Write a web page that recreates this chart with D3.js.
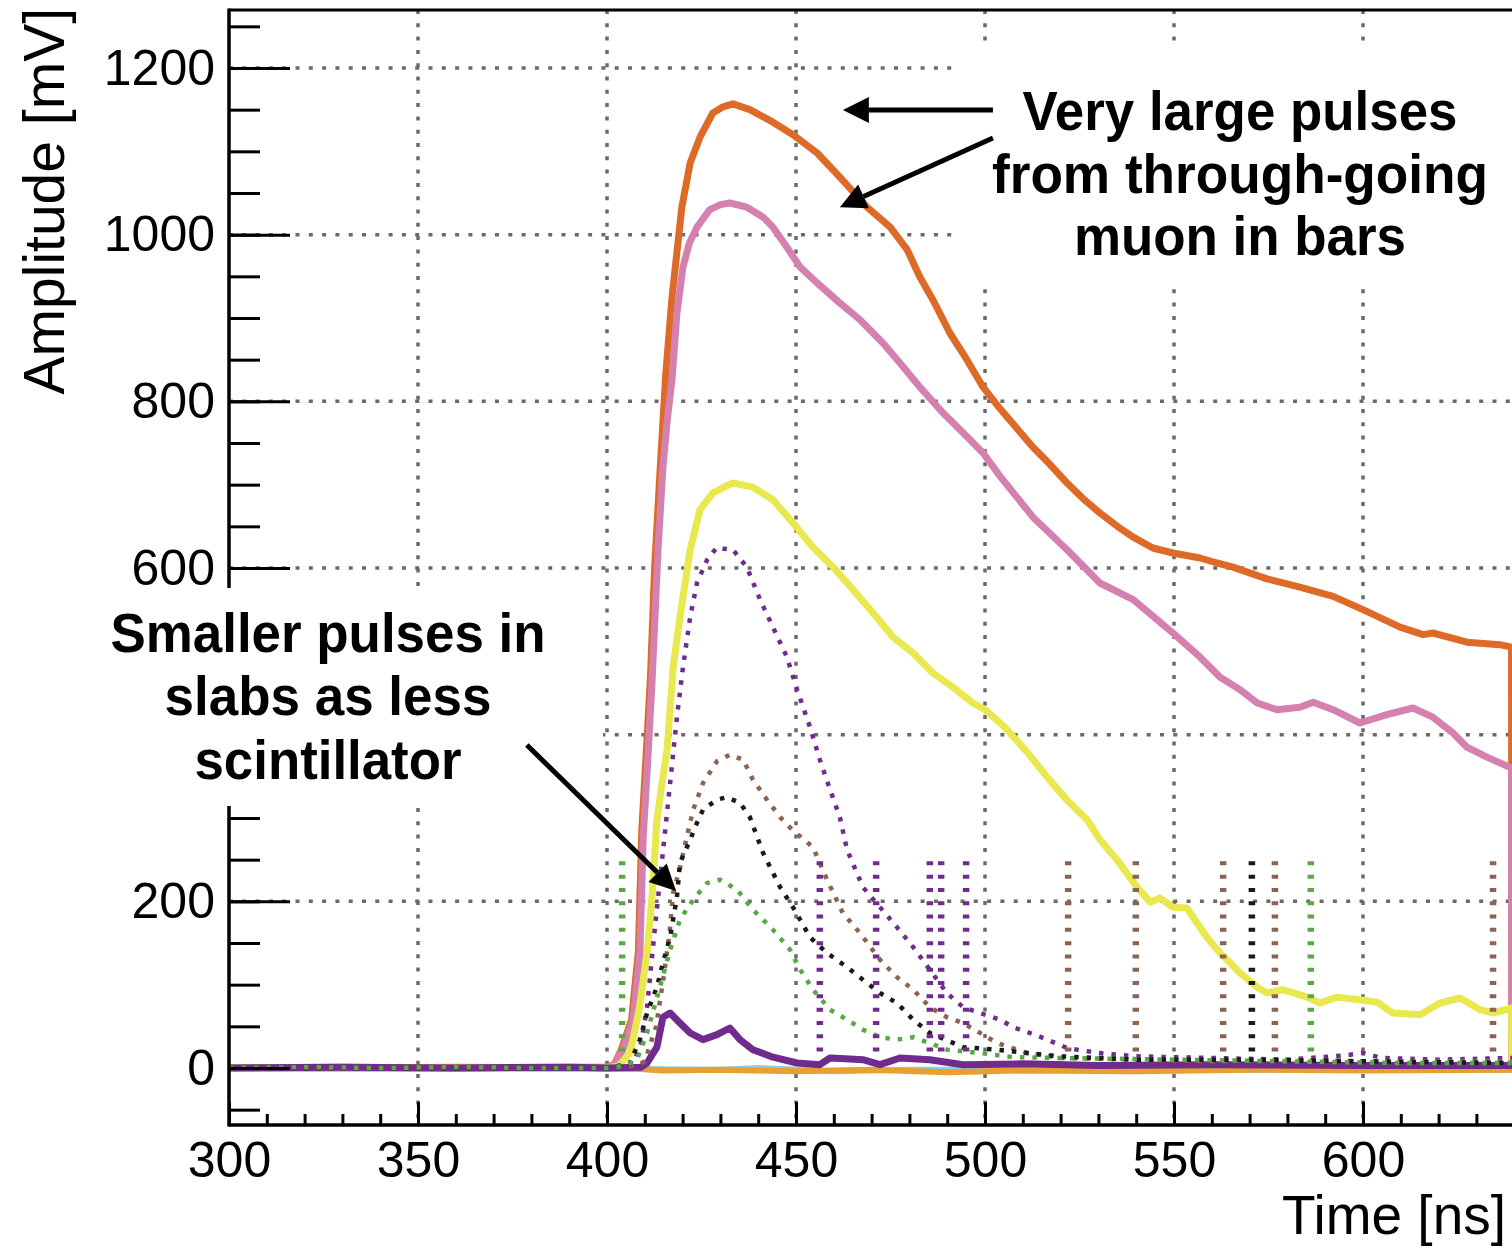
<!DOCTYPE html>
<html><head><meta charset="utf-8">
<script src="https://cdn.jsdelivr.net/npm/d3@7"></script>
<style>html,body{margin:0;padding:0;background:#fff;} svg{display:block;}</style>
</head><body>
<svg id="chart" width="1512" height="1247"></svg>
<script>
// ---------------- DATA (time [ns], amplitude [mV]) ----------------
const barOrange = [[300,0],[330,1],[360,0],[390,1],[400,1],[402,5],[403.8,22],[406.5,58],[408.3,140],[409.2,285],[410.4,380],[411.5,470],[412.6,600],[414,714],[415.5,830],[417.2,925],[419.8,1033],[422,1086],[424.6,1117],[428,1146],[430.5,1153],[433.3,1157],[437.8,1150],[443.9,1135],[449.2,1120],[455.6,1098],[461.6,1069],[468.8,1033],[474.9,1009],[479.4,982],[482.8,949],[486.2,922],[490.7,882],[495.2,850],[499.5,817],[504,791],[509.3,763],[512.7,745],[516.4,728],[521.7,702],[526,683],[530.4,666],[535,650],[539.2,637],[544.4,624],[549.7,618],[556.9,612],[561.4,606],[565.6,601],[574.6,587],[583.3,577],[592.1,566],[600,550],[609.8,529],[615.9,520],[618.5,522],[627.5,511],[636.2,508],[639.3,505],[639.4,0],[650,0]];
const barPink = [[300,0],[330,0],[360,1],[390,0],[400,1],[402,5],[404.2,22],[406.9,58],[408.7,138],[409.6,280],[410.8,370],[411.9,462],[413.5,622],[414.8,721],[416,780],[417.2,826],[418.5,906],[420.1,961],[421.8,990],[423.8,1009],[427.2,1030],[430,1036],[432.5,1038],[437,1033],[441.3,1021],[443.9,1009],[447.6,985],[451.1,961],[455.6,942],[461.6,918],[466.9,898],[473,870],[477.5,846],[482.8,817],[488.9,786],[493.4,766],[499.5,738],[504,710],[512.7,661],[521.7,622],[530.4,582],[539.2,562],[545,540],[550,521],[556.9,493],[562.2,469],[567.5,454],[572,438],[577.2,430],[583.3,433],[586.8,439],[592.1,430],[599.2,414],[606.3,424],[613.2,432],[618.5,421],[623.8,402],[627.5,385],[632.8,373],[639.3,360],[639.4,0],[650,0]];
const barYellow = [[300,0],[330,1],[360,0],[390,0],[400,0],[403,2],[406.1,18],[408.5,70],[410.6,138],[412,210],[413.2,298],[414.5,340],[415.9,382],[417.5,481],[419.3,541],[422,622],[424.6,670],[428,690],[431,697],[433.3,702],[438.6,697],[443.9,682],[449.2,654],[454.5,625],[459.8,601],[465.1,574],[470.4,546],[475.7,517],[481,498],[486.2,474],[491.5,457],[496.8,438],[500,430],[505,410],[511,380],[517,346],[522,320],[527,298],[530.4,274],[534.9,250],[540.2,217],[543.7,199],[546.3,204],[549.7,193],[553.4,192],[558.7,157],[562.2,138],[567.5,114],[572,97],[574.6,90],[578.8,94],[585.2,85],[588.6,78],[593.1,85],[599.2,82],[603.7,79],[607.9,66],[615.1,64],[620.4,78],[625.7,84],[631,70],[634.4,66],[639.3,72],[639.4,0],[650,0]];
const barLightOrange = [[300,0],[350,1],[400,0],[408,-1],[415,-3],[430,-2],[450,-4],[470,-2],[490,-5],[510,-3],[540,-4],[570,-2],[600,-3],[640,-2],[650,-2]];
const barLightBlue = [[300,-1],[400,-1],[430,-2],[440,0],[452,-2],[460,-4],[480,-2],[520,-2],[600,-2],[650,-2]];
const barPurple = [[300,0],[330,1],[360,0],[390,1],[400,0],[409,1],[410.6,6],[413.2,25],[414.8,61],[416.7,66],[419.3,54],[422,42],[425.4,34],[429.1,40],[432.5,48],[435.2,34],[438.6,22],[443.9,13],[450.3,6],[456.3,4],[459,12],[463,11],[467.7,10],[472.2,4],[477.5,12],[485.4,10],[494.2,4],[510,5],[530,3],[560,4],[600,3],[639.4,3],[650,3]];
const slabPurple = [[300,0],[400,0],[407,5],[409,30],[410.6,73],[412.5,160],[414.8,260],[416.7,342],[418.5,421],[420.1,481],[422,541],[423.8,582],[426.5,610],[429.1,625],[431,623],[433.3,622],[437,601],[440.5,562],[443.9,529],[447.6,493],[450.3,454],[453.7,409],[456.3,370],[459,334],[461.6,301],[463.5,262],[467.7,217],[472.2,193],[476.7,169],[481,145],[485.4,118],[489.9,90],[494.2,73],[498.7,66],[504,58],[507.4,49],[511.9,42],[516,35],[521.7,24],[530,18],[540,14],[560,12],[580,10],[595,15],[600,18],[605,12],[620,10],[639.4,12],[650,10]];
const slabBrown = [[300,0],[400,0],[408,3],[410,8],[413,50],[415,110],[416.5,160],[417.5,210],[419.3,240],[421,275],[422.8,310],[425.4,342],[429.1,368],[432.5,376],[436,370],[438.6,346],[442.3,322],[445.8,301],[449.2,285],[454.5,265],[458.2,226],[462.4,186],[466.9,162],[472.2,130],[476.7,109],[481,94],[485.4,73],[489.9,61],[494.2,54],[503.2,30],[511.1,18],[520,12],[540,10],[560,8],[580,10],[600,8],[639.4,8],[650,8]];
const slabBlack = [[300,0],[400,0],[406,5],[408.7,34],[410.6,66],[413.2,97],[414.8,126],[416.7,157],[418.5,205],[419.3,246],[422,274],[423.8,294],[425.4,310],[429.1,322],[431.7,325],[435.2,318],[437.8,301],[441.3,258],[445.8,217],[449.2,193],[453.7,157],[458.2,138],[463.5,121],[467.7,106],[472.2,90],[476.7,78],[481,58],[485.4,42],[494.2,25],[503.2,22],[511.1,18],[520,14],[540,10],[570,10],[600,8],[639.4,6],[650,6]];
const slabGreen = [[300,0],[320,1],[340,0],[360,1],[380,0],[400,0],[405,3],[407.9,10],[410.6,42],[414,97],[416.7,142],[419.3,178],[422.8,202],[426.5,222],[429.9,226],[434.4,214],[438.6,190],[443.9,166],[448.4,142],[451.1,118],[454.5,94],[459,70],[463.5,58],[467.7,46],[472.2,37],[476.7,34],[481,37],[485.4,30],[489.9,22],[498.7,18],[507.4,13],[520,12],[550,10],[580,8],[610,6],[639.4,6],[650,6]];
// vertical dotted spikes
const spikeTime = [404.0, 456.3, 471.2, 485.4, 488.4, 495.0, 522.0, 539.9, 563.0, 570.6, 576.7, 586.2, 634.4];
const spikeSeries = ["green","purple","purple","purple","purple","purple","brown","brown","brown","black","brown","green","brown"];
const spikeTop = 248, spikeBottom = 14;
// axis ticks (400 mV label is hidden behind the annotation in the original)
const xLabelTicks = [300, 350, 400, 450, 500, 550, 600];
const xMajorTicks = [300, 350, 400, 450, 500, 550, 600, 650];
const yLabelTicks = [0, 200, 600, 800, 1000, 1200];
const yMajorTicks = [0, 200, 400, 600, 800, 1000, 1200];
const yGridTicks = [200, 400, 600, 800, 1000, 1200];
const xGridTicks = [350, 400, 450, 500, 550, 600, 650];

// ---------------- STYLES ----------------
const colors = {orange:"#de6a27", pink:"#d581b0", yellow:"#e9e84e", lightOrange:"#e9a02e", lightBlue:"#8ccde6",
  purple:"#702c8c", brown:"#8b6350", black:"#1a1a1a", green:"#58a944"};

const svg = d3.select("#chart");
const x = d3.scaleLinear().domain([300, 650]).range([229, 229 + 350 * 3.78]);
const y = d3.scaleLinear().domain([-68.4, 1269.6]).range([1125, 10]);
const font = "'Liberation Sans', Arial, Helvetica, sans-serif";

// grid
const grid = svg.append("g").attr("stroke", "#6a6a6a").attr("stroke-width", 3.5).attr("stroke-dasharray", "4,9.3");
grid.selectAll("line.v").data(xGridTicks).join("line").attr("class","v")
  .attr("x1", d => x(d)).attr("x2", d => x(d)).attr("y1", y(1269.6)).attr("y2", y(-68.4));
grid.selectAll("line.h").data(yGridTicks).join("line").attr("class","h")
  .attr("x1", x(300)).attr("x2", 1512).attr("y1", d => y(d)).attr("y2", d => y(d));

// clip
svg.append("clipPath").attr("id","plotclip").append("rect")
  .attr("x", x(300)).attr("y", y(1269.6)).attr("width", 1512 - x(300)).attr("height", y(-68.4) - y(1269.6));
const plot = svg.append("g").attr("clip-path","url(#plotclip)");
const line = d3.line().x(d => x(d[0])).y(d => y(d[1]));

function solid(data, color, w) {
  plot.append("path").datum(data).attr("d", line).attr("fill","none")
    .attr("stroke", color).attr("stroke-width", w).attr("stroke-linejoin","round");
}
function dotted(data, color, w) {
  plot.append("path").datum(data).attr("d", line).attr("fill","none")
    .attr("stroke", color).attr("stroke-width", w).attr("stroke-dasharray","4.5,8");
}
solid(barOrange, colors.orange, 7);
solid(barPink, colors.pink, 7);
solid(barYellow, colors.yellow, 7);
solid(barLightBlue, colors.lightBlue, 6);
solid(barLightOrange, colors.lightOrange, 6);
solid(barPurple, colors.purple, 7);
dotted(slabPurple, colors.purple, 4.5);
dotted(slabBrown, colors.brown, 4.5);
dotted(slabBlack, colors.black, 4.5);
dotted(slabGreen, colors.green, 4.5);

// spikes
plot.selectAll("line.spike").data(spikeTime).join("line").attr("class","spike")
  .attr("x1", d => x(d)).attr("x2", d => x(d))
  .attr("y1", y(spikeTop)).attr("y2", y(spikeBottom))
  .attr("stroke", (d,i) => colors[spikeSeries[i]])
  .attr("stroke-width", 6.5).attr("stroke-dasharray","4,9.3");

// axes
const axG = svg.append("g");
axG.append("line").attr("x1", x(300)).attr("x2", x(300)).attr("y1", y(1269.6)-1.5).attr("y2", y(-68.4)+1.5).attr("stroke","#000").attr("stroke-width",3.5);
axG.append("line").attr("x1", x(300)).attr("x2", 1512).attr("y1", y(-68.4)).attr("y2", y(-68.4)).attr("stroke","#000").attr("stroke-width",3.5);
axG.append("line").attr("x1", x(300)).attr("x2", 1512).attr("y1", y(1269.6)).attr("y2", y(1269.6)).attr("stroke","#000").attr("stroke-width",3);

const yMinor = d3.range(-50, 1251, 50);
const yAxMinor = svg.append("g").attr("transform", `translate(${x(300)},0)`)
  .call(d3.axisLeft(y).tickValues(yMinor).tickSizeInner(-31).tickSizeOuter(0).tickFormat(""));
const yAxMajor = svg.append("g").attr("transform", `translate(${x(300)},0)`)
  .call(d3.axisLeft(y).tickValues(yMajorTicks).tickSizeInner(-61).tickSizeOuter(0).tickFormat(""));
const yAxLabels = svg.append("g").attr("transform", `translate(${x(300)},0)`)
  .call(d3.axisLeft(y).tickValues(yLabelTicks).tickSizeInner(0).tickSizeOuter(0).tickPadding(14).tickFormat(d3.format("d")));
const xMinor = d3.range(300, 651, 10);
const xAxMinor = svg.append("g").attr("transform", `translate(0,${y(-68.4)})`)
  .call(d3.axisBottom(x).tickValues(xMinor).tickSizeInner(-11).tickSizeOuter(0).tickFormat(""));
const xAxMajor = svg.append("g").attr("transform", `translate(0,${y(-68.4)})`)
  .call(d3.axisBottom(x).tickValues(xMajorTicks).tickSizeInner(-23).tickSizeOuter(0).tickFormat(""));
const xAxLabels = svg.append("g").attr("transform", `translate(0,${y(-68.4)})`)
  .call(d3.axisBottom(x).tickValues(xLabelTicks).tickSizeInner(0).tickSizeOuter(0).tickPadding(16).tickFormat(d3.format("d")));
[yAxMinor, yAxMajor, yAxLabels, xAxMinor, xAxMajor, xAxLabels].forEach(g => {
  g.select(".domain").remove();
  g.selectAll(".tick line").attr("stroke","#000").attr("stroke-width",3);
  g.selectAll("text").attr("font-family", font).attr("font-size", 50).attr("fill","#000");
});

// axis titles
svg.append("text").attr("transform","translate(64,8) rotate(-90)").attr("text-anchor","end")
  .attr("font-family", font).attr("font-size", 57).text("Amplitude [mV]");
svg.append("text").attr("x", 1506).attr("y", 1234).attr("text-anchor","end")
  .attr("font-family", font).attr("font-size", 55).text("Time [ns]");

// annotation boxes (white)
svg.append("rect").attr("x", 957).attr("y", 45).attr("width", 560).attr("height", 235).attr("fill","#fff");
svg.append("rect").attr("x", 95).attr("y", 588).attr("width", 508).attr("height", 218).attr("fill","#fff");

const upperLines = [["Very large pulses",130,435],["from through-going",193,496],["muon in bars",255,332]];
const lowerLines = [["Smaller pulses in",652,435],["slabs as less",715,327],["scintillator",779,267]];
upperLines.forEach(l => svg.append("text").attr("x",1240).attr("y",l[1]).attr("text-anchor","middle")
  .attr("font-family", font).attr("font-weight","bold").attr("font-size",55)
  .attr("textLength", l[2]).attr("lengthAdjust","spacingAndGlyphs").text(l[0]));
lowerLines.forEach(l => svg.append("text").attr("x",328).attr("y",l[1]).attr("text-anchor","middle")
  .attr("font-family", font).attr("font-weight","bold").attr("font-size",55)
  .attr("textLength", l[2]).attr("lengthAdjust","spacingAndGlyphs").text(l[0]));

// arrows (in data coordinates)
const arrows = [[[502.1,1149.6],[462.4,1149.6]],[[502.1,1116],[461.6,1033]],[[378.8,387.6],[418.3,212.4]]];
arrows.forEach(a => {
  const x0 = x(a[0][0]), y0 = y(a[0][1]), x1 = x(a[1][0]), y1 = y(a[1][1]);
  const ang = Math.atan2(y1 - y0, x1 - x0), L = 26, Wd = 13;
  const bx = x1 - L*Math.cos(ang), by = y1 - L*Math.sin(ang);
  svg.append("line").attr("x1",x0).attr("y1",y0).attr("x2",bx).attr("y2",by).attr("stroke","#000").attr("stroke-width",5);
  const px = -Math.sin(ang), py = Math.cos(ang);
  svg.append("polygon").attr("points", `${x1},${y1} ${bx+Wd*px},${by+Wd*py} ${bx-Wd*px},${by-Wd*py}`).attr("fill","#000");
});
</script>
</body></html>
